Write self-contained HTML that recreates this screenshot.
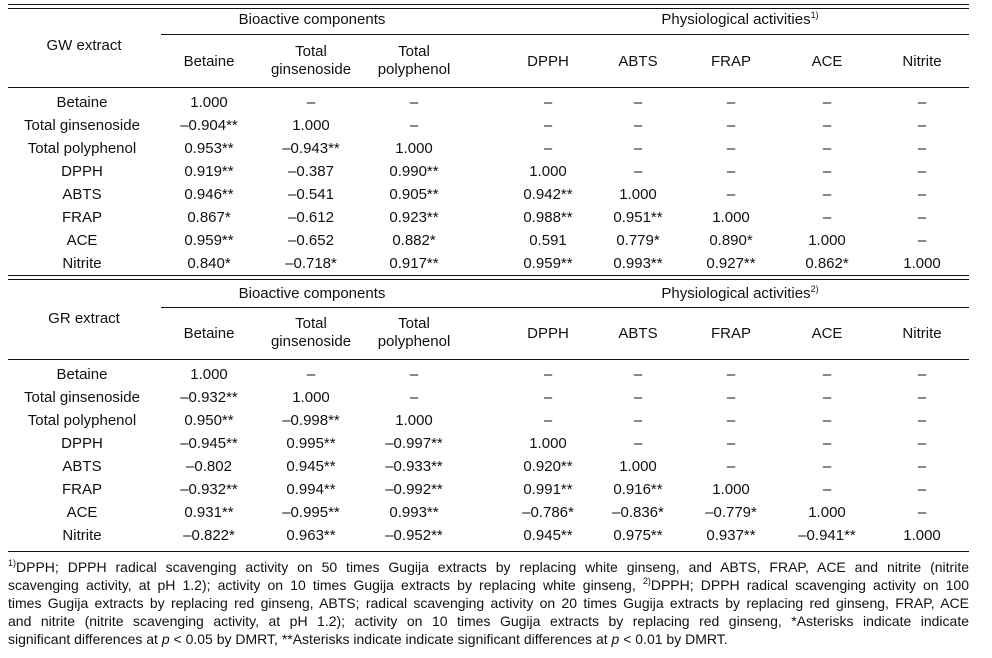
<!DOCTYPE html>
<html><head><meta charset="utf-8"><style>
body{margin:0;width:992px;height:658px;background:#fff;position:relative;font-family:"Liberation Sans",sans-serif;color:#111;overflow:hidden}
.c{position:absolute;transform:translateX(-50%);white-space:nowrap;font-size:15px;line-height:18px;text-align:center}
.c.r{line-height:23px}
.l{position:absolute;background:#111;height:1.4px}
.f{position:absolute;left:8px;width:961px;font-size:14px;line-height:18px;text-align:justify;text-align-last:justify;overflow:visible}
sup{font-size:9px;vertical-align:6px;line-height:0}
</style></head><body>
<div class="l" style="left:8px;width:961px;top:4px"></div>
<div class="l" style="left:8px;width:961px;top:8px"></div>
<div class="l" style="left:161px;width:808px;top:34px"></div>
<div class="l" style="left:8px;width:961px;top:87px"></div>
<div class="l" style="left:8px;width:961px;top:275px"></div>
<div class="l" style="left:8px;width:961px;top:279px"></div>
<div class="l" style="left:161px;width:808px;top:307px"></div>
<div class="l" style="left:8px;width:961px;top:359px"></div>
<div class="l" style="left:8px;width:961px;top:551px"></div>

<div class="c" style="left:312px;top:11px">Bioactive components</div>
<div class="c" style="left:740px;top:11px">Physiological activities<sup>1)</sup></div>
<div class="c" style="left:84px;top:37px">GW extract</div>
<div class="c" style="left:209px;top:53px">Betaine</div>
<div class="c" style="left:311px;top:43px">Total<br>ginsenoside</div>
<div class="c" style="left:414px;top:43px">Total<br>polyphenol</div>
<div class="c" style="left:548px;top:53px">DPPH</div>
<div class="c" style="left:638px;top:53px">ABTS</div>
<div class="c" style="left:731px;top:53px">FRAP</div>
<div class="c" style="left:827px;top:53px">ACE</div>
<div class="c" style="left:922px;top:53px">Nitrite</div>

<div class="c" style="left:312px;top:285px">Bioactive components</div>
<div class="c" style="left:740px;top:285px">Physiological activities<sup>2)</sup></div>
<div class="c" style="left:84px;top:310px">GR extract</div>
<div class="c" style="left:209px;top:325px">Betaine</div>
<div class="c" style="left:311px;top:315px">Total<br>ginsenoside</div>
<div class="c" style="left:414px;top:315px">Total<br>polyphenol</div>
<div class="c" style="left:548px;top:325px">DPPH</div>
<div class="c" style="left:638px;top:325px">ABTS</div>
<div class="c" style="left:731px;top:325px">FRAP</div>
<div class="c" style="left:827px;top:325px">ACE</div>
<div class="c" style="left:922px;top:325px">Nitrite</div>

<div class="c r" style="left:82px;top:91px">Betaine<br>Total ginsenoside<br>Total polyphenol<br>DPPH<br>ABTS<br>FRAP<br>ACE<br>Nitrite</div>
<div class="c r" style="left:209px;top:91px">1.000<br>–0.904**<br>0.953**<br>0.919**<br>0.946**<br>0.867*<br>0.959**<br>0.840*</div>
<div class="c r" style="left:311px;top:91px">–<br>1.000<br>–0.943**<br>–0.387<br>–0.541<br>–0.612<br>–0.652<br>–0.718*</div>
<div class="c r" style="left:414px;top:91px">–<br>–<br>1.000<br>0.990**<br>0.905**<br>0.923**<br>0.882*<br>0.917**</div>
<div class="c r" style="left:548px;top:91px">–<br>–<br>–<br>1.000<br>0.942**<br>0.988**<br>0.591<br>0.959**</div>
<div class="c r" style="left:638px;top:91px">–<br>–<br>–<br>–<br>1.000<br>0.951**<br>0.779*<br>0.993**</div>
<div class="c r" style="left:731px;top:91px">–<br>–<br>–<br>–<br>–<br>1.000<br>0.890*<br>0.927**</div>
<div class="c r" style="left:827px;top:91px">–<br>–<br>–<br>–<br>–<br>–<br>1.000<br>0.862*</div>
<div class="c r" style="left:922px;top:91px">–<br>–<br>–<br>–<br>–<br>–<br>–<br>1.000</div>

<div class="c r" style="left:82px;top:363px">Betaine<br>Total ginsenoside<br>Total polyphenol<br>DPPH<br>ABTS<br>FRAP<br>ACE<br>Nitrite</div>
<div class="c r" style="left:209px;top:363px">1.000<br>–0.932**<br>0.950**<br>–0.945**<br>–0.802<br>–0.932**<br>0.931**<br>–0.822*</div>
<div class="c r" style="left:311px;top:363px">–<br>1.000<br>–0.998**<br>0.995**<br>0.945**<br>0.994**<br>–0.995**<br>0.963**</div>
<div class="c r" style="left:414px;top:363px">–<br>–<br>1.000<br>–0.997**<br>–0.933**<br>–0.992**<br>0.993**<br>–0.952**</div>
<div class="c r" style="left:548px;top:363px">–<br>–<br>–<br>1.000<br>0.920**<br>0.991**<br>–0.786*<br>0.945**</div>
<div class="c r" style="left:638px;top:363px">–<br>–<br>–<br>–<br>1.000<br>0.916**<br>–0.836*<br>0.975**</div>
<div class="c r" style="left:731px;top:363px">–<br>–<br>–<br>–<br>–<br>1.000<br>–0.779*<br>0.937**</div>
<div class="c r" style="left:827px;top:363px">–<br>–<br>–<br>–<br>–<br>–<br>1.000<br>–0.941**</div>
<div class="c r" style="left:922px;top:363px">–<br>–<br>–<br>–<br>–<br>–<br>–<br>1.000</div>

<div class="f" style="top:558px"><sup>1)</sup>DPPH; DPPH radical scavenging activity on 50 times Gugija extracts by replacing white ginseng, and ABTS, FRAP, ACE and nitrite (nitrite</div>
<div class="f" style="top:576px">scavenging activity, at pH 1.2); activity on 10 times Gugija extracts by replacing white ginseng, <sup>2)</sup>DPPH; DPPH radical scavenging activity on 100</div>
<div class="f" style="top:594px">times Gugija extracts by replacing red ginseng, ABTS; radical scavenging activity on 20 times Gugija extracts by replacing red ginseng, FRAP, ACE</div>
<div class="f" style="top:612px">and nitrite (nitrite scavenging activity, at pH 1.2); activity on 10 times Gugija extracts by replacing red ginseng, *Asterisks indicate indicate</div>
<div class="f" style="top:630px;text-align-last:left;white-space:nowrap">significant differences at <i>p</i> &lt; 0.05 by DMRT, **Asterisks indicate indicate significant differences at <i>p</i> &lt; 0.01 by DMRT.</div>
</body></html>
